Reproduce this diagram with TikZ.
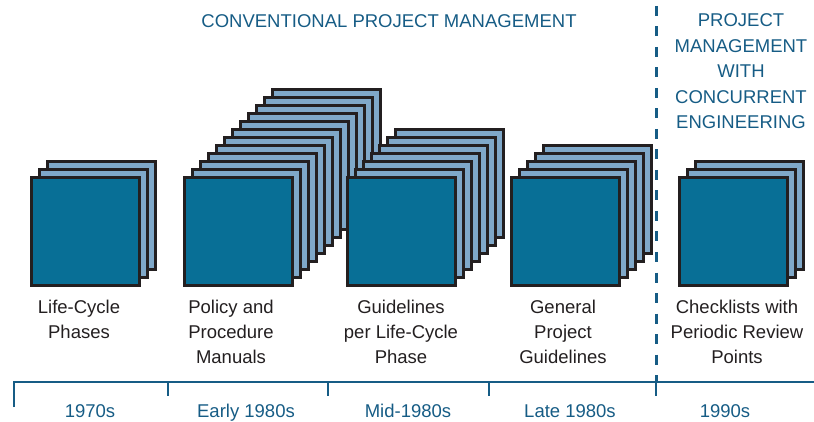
\documentclass[tikz,border=0pt]{standalone}
\usepackage{fontspec}
\setmainfont{Liberation Sans}
\definecolor{frontfill}{HTML}{086F96}
\definecolor{backfill}{HTML}{7FA8C9}
\definecolor{edgecol}{HTML}{231F20}
\definecolor{tealtext}{HTML}{165C85}
\begin{document}
\begin{tikzpicture}[x=1pt,y=-1pt,
  sheet/.style={draw=edgecol, line width=3pt, minimum width=108pt, minimum height=108pt, inner sep=0pt, outer sep=0pt, anchor=north west},
  backsheet/.style={sheet, fill=backfill},
  frontsheet/.style={sheet, fill=frontfill},
  lbl/.style={font=\fontsize{18.5}{25}\selectfont, text=edgecol, align=center, anchor=north, inner sep=0pt},
  hdr/.style={font=\fontsize{18.5}{25.5}\selectfont, text=tealtext, align=center, inner sep=0pt},
  era/.style={font=\fontsize{18.5}{22}\selectfont, text=tealtext, anchor=base, inner sep=0pt},
  axisline/.style={draw=tealtext, line width=2.5pt},
  divider/.style={draw=tealtext, line width=3pt, dash pattern=on 10pt off 10.5pt},
]
\useasboundingbox (0,0) rectangle (814,422);
% stacks of sheets
\foreach \name/\x/\n in {s1/30/2, s2/183/11, s3/346/6, s4/510/4, s5/678/2} {
  \foreach \i in {\n,...,1} {
    \node[backsheet] (\name b\i) at (\x+1.5+8*\i, 177.5-8*\i) {};
  }
  \node[frontsheet] (\name) at (\x+1.5,177.5) {};
}
% labels
\node[lbl] (l1) at (79,299.5) {Life-Cycle\\Phases};
\node[lbl] (l2) at (231,299.5) {Policy and\\Procedure\\Manuals};
\node[lbl] (l3) at (401,299.5) {Guidelines\\per Life-Cycle\\Phase};
\node[lbl] (l4) at (563,299.5) {General\\Project\\Guidelines};
\node[lbl] (l5) at (737,299.5) {Checklists with\\Periodic Review\\Points};
% headers
\node[hdr, anchor=base] (conv) at (389,27.3) {CONVENTIONAL PROJECT MANAGEMENT};
\node[hdr, anchor=north] (ce) at (741,13.7) {PROJECT\\MANAGEMENT\\WITH\\CONCURRENT\\ENGINEERING};
% timeline
\coordinate (tl0) at (14,382);
\coordinate (tl0b) at (14,407);
\coordinate (tlend) at (814,382);
\draw[axisline, line join=miter] (tl0b) -- (tl0) -- (tlend);
\foreach \k/\tx in {1/168, 2/328, 3/489, 4/656} {
  \coordinate (tk\k) at (\tx,382);
  \coordinate (tk\k b) at (\tx,396);
  \draw[axisline] (tk\k) -- (tk\k b);
}
\coordinate (divtop) at (656,6);
\draw[divider] (divtop) -- (tk4);
% eras
\node[era] (e1) at (90,417) {1970s};
\node[era] (e2) at (246,417) {Early 1980s};
\node[era] (e3) at (408,417) {Mid-1980s};
\node[era] (e4) at (570,417) {Late 1980s};
\node[era] (e5) at (725,417) {1990s};
\end{tikzpicture}
\end{document}
